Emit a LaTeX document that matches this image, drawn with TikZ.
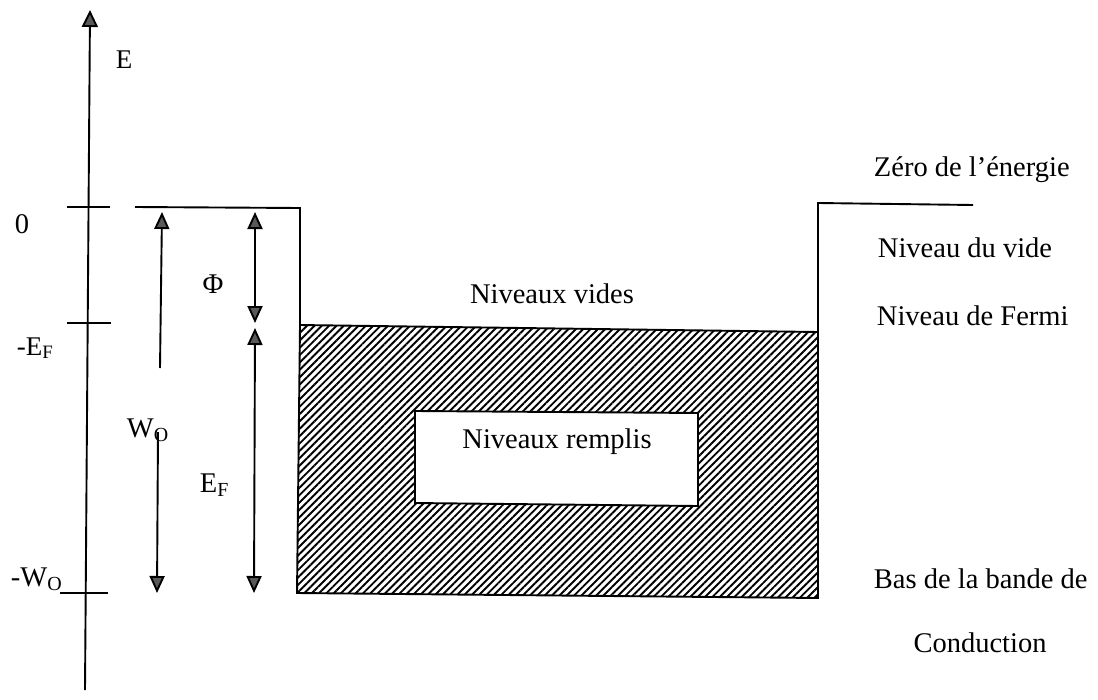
\documentclass[tikz,border=0pt]{standalone}
\usepackage{fontspec}
\setmainfont{Liberation Serif}
\usetikzlibrary{arrows.meta,patterns.meta}
\begin{document}
\begin{tikzpicture}[x=1pt,y=-1pt,
    line width=1.9pt,
    tip/.style={-{Triangle[length=17pt,width=15pt,fill=black!65]}},
    dtip/.style={{Triangle[length=17pt,width=15pt,fill=black!65]}-{Triangle[length=17pt,width=15pt,fill=black!65]}},
    lbl/.style={inner sep=0pt,font=\fontsize{28.5}{31}\selectfont},
    slbl/.style={inner sep=0pt,font=\fontsize{27}{30}\selectfont},
    hatch/.style={pattern={Lines[angle=45,distance=5.2pt,line width=1.9pt]},pattern color=black}]
\useasboundingbox (0,0) rectangle (1098,699);

% energy axis
\coordinate (axb) at (85,690);
\coordinate (axt) at (90,10);
\draw[-{Triangle[length=17pt,width=16pt,fill=black!65]}] (axb) -- (axt);
\node[slbl,anchor=base west] (E) at (115,68) {E};

% ticks on the axis
\coordinate (t0a) at (67,207);   \coordinate (t0b) at (110,207);
\coordinate (tfa) at (67,323);   \coordinate (tfb) at (111,323);
\coordinate (twa) at (60,593);   \coordinate (twb) at (108,593);
\draw (t0a) -- (t0b);
\draw (tfa) -- (tfb);
\draw (twa) -- (twb);
\node[lbl,anchor=base west] (l0) at (14,233) {0};
\node[slbl,anchor=base west] (lef) at (16,355) {-E\textsubscript{F}};
\node[lbl,anchor=base west] (lwo) at (10,586) {-W\textsubscript{O}};

% filled band (hatched) with the empty-level box inside
\coordinate (b1) at (300,325);
\coordinate (b2) at (818,332);
\coordinate (b3) at (818,598);
\coordinate (b4) at (297,593);
\draw[hatch] (b1) -- (b2) -- (b3) -- (b4) -- cycle;
\coordinate (r1) at (415,411);
\coordinate (r2) at (698,413);
\coordinate (r3) at (698,506);
\coordinate (r4) at (415,503);
\draw[fill=white] (r1) -- (r2) -- (r3) -- (r4) -- cycle;
\node[lbl,anchor=base] (remplis) at (557,448) {Niveaux remplis};
\node[lbl,anchor=base] (vides) at (552,303) {Niveaux vides};

% potential well walls (vacuum level)
\coordinate (vl0) at (135,207);
\coordinate (vl1) at (300,208);
\coordinate (vr0) at (818,203);
\coordinate (vr1) at (973,205);
\draw (vl0) -- (vl1) -- (b1);
\draw (b2) -- (vr0) -- (vr1);

% W0 arrow (split around its label)
\coordinate (w0t) at (162,212);
\coordinate (w0m1) at (160,368);
\coordinate (w0m2) at (158,432);
\coordinate (w0b) at (157,593);
\draw[tip] (w0m1) -- (w0t);
\draw[tip] (w0m2) -- (w0b);
\node[lbl,anchor=base west] (W0) at (126,437) {W\textsubscript{O}};

% work function and Fermi energy arrows
\coordinate (pt) at (255,212);
\coordinate (pb) at (255,323);
\coordinate (ft) at (255,328);
\coordinate (fb) at (254,593);
\draw[dtip] (pt) -- (pb);
\draw[dtip] (ft) -- (fb);
\node[lbl] (phi) at (213,284) {Φ};
\node[lbl,anchor=base west] (EF) at (199,492) {E\textsubscript{F}};

% level names on the right
\node[lbl,anchor=base west] (zero) at (873,176) {Zéro de l’énergie};
\node[lbl,anchor=base west] (nvide) at (877,257) {Niveau du vide};
\node[lbl,anchor=base west] (nfermi) at (876,325) {Niveau de Fermi};
\node[lbl,anchor=base west] (bas) at (873,588) {Bas de la bande de};
\node[lbl,anchor=base] (cond) at (980,652) {Conduction};
\end{tikzpicture}
\end{document}
